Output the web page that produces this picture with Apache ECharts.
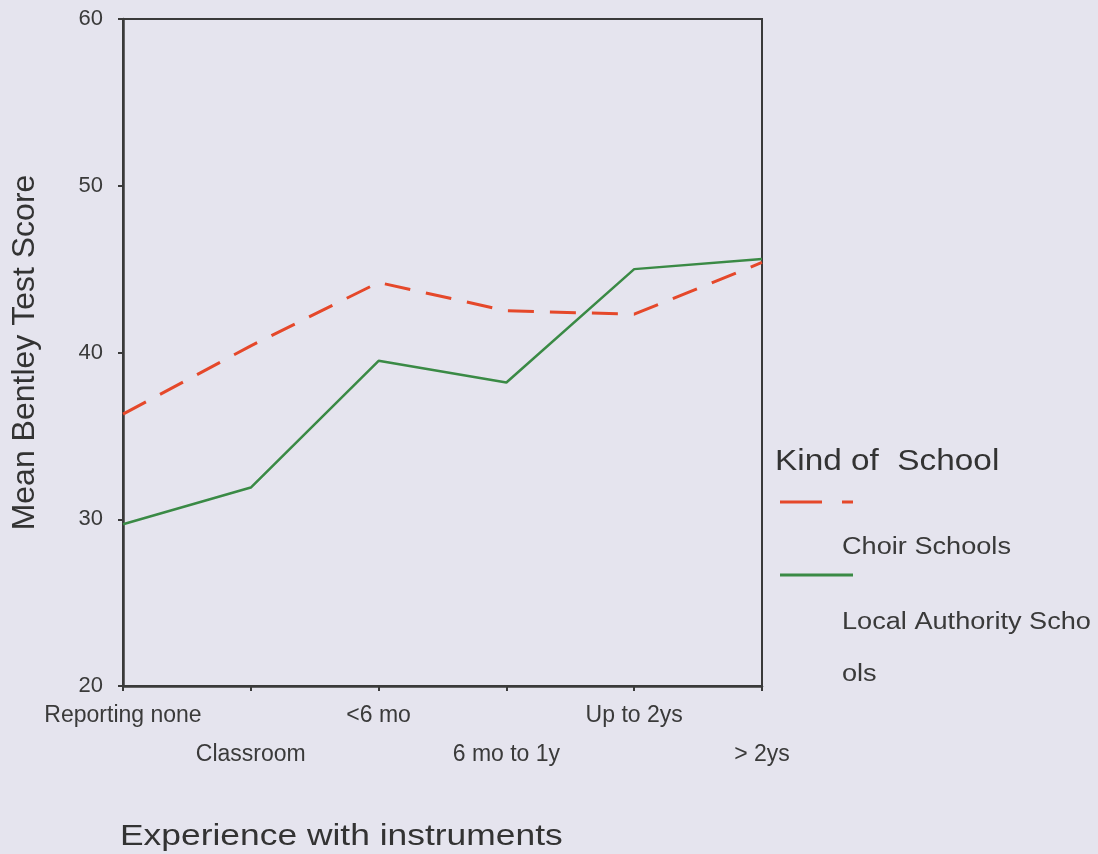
<!DOCTYPE html>
<html><head><meta charset="utf-8">
<script src="https://cdn.jsdelivr.net/npm/echarts@6/dist/echarts.min.js"></script>
<style>html,body{margin:0;padding:0;background:#e5e4ee;}#c{width:1098px;height:854px;}</style>
</head><body><div id="c"></div>
<script>
const categories = ['Reporting none','Classroom','<6 mo','6 mo to 1y','Up to 2ys','> 2ys'];
const choirSchools = [36.3, 40.4, 44.2, 42.5, 42.3, 45.4];
const localAuthority = [29.7, 31.9, 39.5, 38.2, 45.0, 45.6];
const yTicks = [20, 30, 40, 50, 60];

const font = 'Liberation Sans, Arial, sans-serif';
const chart = echarts.init(document.getElementById('c'));
chart.setOption({
  backgroundColor: '#e5e4ee',
  animation: false,
  grid: {left: 123, right: 336, top: 19, bottom: 168, show: true, borderColor: '#3a3a3a', borderWidth: 2, backgroundColor: 'transparent'},
  xAxis: {
    type: 'category', data: categories, boundaryGap: false,
    axisLine: {lineStyle: {color: '#3a3a3a', width: 2.5}},
    axisTick: {show: true, length: 5, lineStyle: {color: '#3a3a3a', width: 2}},
    axisLabel: {fontFamily: font, fontSize: 23, color: '#3a3a3a', margin: 10, lineHeight: 39, interval: 0,
      formatter: (v, i) => (i % 2 === 1 ? '\n' + v : v)},
    splitLine: {show: false}
  },
  yAxis: {
    type: 'value', min: yTicks[0], max: yTicks[yTicks.length - 1], interval: 10,
    name: 'Mean Bentley Test Score', nameLocation: 'middle', nameGap: 82,
    nameTextStyle: {fontFamily: font, fontSize: 32, color: '#333'},
    axisLine: {show: true, lineStyle: {color: '#3a3a3a', width: 2.5}},
    axisTick: {show: true, length: 5, lineStyle: {color: '#3a3a3a', width: 2}},
    axisLabel: {fontFamily: font, fontSize: 22, color: '#3a3a3a', margin: 20},
    splitLine: {show: false}
  },
  legend: {
    orient: 'vertical', left: 775, top: 491, itemWidth: 73, itemHeight: 3, itemGap: 61,
    formatter: () => ' ',
    data: [
      {name: 'Choir Schools', icon: 'path://M0,0h42v3h-42z M62,0h11v3h-11z'},
      {name: 'Local Authority Schools', icon: 'path://M0,0h73v3h-73z'}
    ]
  },
  graphic: [
    {type: 'text', left: 120, top: 822, scaleX: 1.18, style: {text: 'Experience with instruments', font: '30px ' + font, fill: '#333'}},
    {type: 'text', left: 775, top: 447, scaleX: 1.15, style: {text: 'Kind of  School', font: '29px ' + font, fill: '#333'}},
    {type: 'text', left: 842, top: 536, scaleX: 1.18, style: {text: 'Choir Schools', font: '23px ' + font, fill: '#3a3a3a'}},
    {type: 'text', left: 842, top: 611, scaleX: 1.18, style: {text: 'Local Authority Scho', font: '23px ' + font, fill: '#3a3a3a'}},
    {type: 'text', left: 842, top: 663, scaleX: 1.18, style: {text: 'ols', font: '23px ' + font, fill: '#3a3a3a'}}
  ],
  series: [
    {name: 'Choir Schools', type: 'line', data: choirSchools, symbol: 'none',
     lineStyle: {color: '#e5482a', width: 3, type: [26, 16]}, itemStyle: {color: '#e5482a'}},
    {name: 'Local Authority Schools', type: 'line', data: localAuthority, symbol: 'none',
     lineStyle: {color: '#3a8a45', width: 2.5}, itemStyle: {color: '#3a8a45'}}
  ]
});
</script></body></html>
